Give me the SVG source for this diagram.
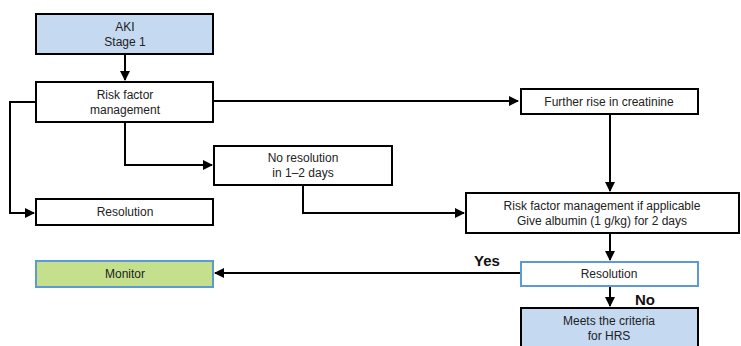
<svg xmlns="http://www.w3.org/2000/svg" width="741" height="346" viewBox="0 0 741 346">
<defs>
<marker id="ah" viewBox="0 0 10 10" refX="9" refY="5" markerWidth="5" markerHeight="5" orient="auto" markerUnits="strokeWidth"><path d="M0,0 L10,5 L0,10 z" fill="#000"/></marker>
<style>
.box{stroke:#000;stroke-width:2;fill:#fff}
.blue{fill:#c5d9f1}
.bl{stroke:#5b9bd5}
.green{fill:#c4e08c}
text{font-family:"Liberation Sans",Arial,sans-serif;font-size:12px;fill:#222;text-anchor:middle}
.lbl{font-weight:bold;font-size:15px;fill:#111}
.c{fill:none;stroke:#000;stroke-width:2}
</style>
</defs>
<rect width="741" height="346" fill="#fff"/>
<g id="connectors">
<path class="c" d="M125,54 V80" marker-end="url(#ah)"/>
<path class="c" d="M213,101 H518" marker-end="url(#ah)"/>
<path class="c" d="M125,122 V165 H212" marker-end="url(#ah)"/>
<path class="c" d="M36,102 H10 V213 H34" marker-end="url(#ah)"/>
<path class="c" d="M303,185 V213 H464" marker-end="url(#ah)"/>
<path class="c" d="M610,114 V191" marker-end="url(#ah)"/>
<path class="c" d="M610,233 V260" marker-end="url(#ah)"/>
<path class="c" d="M520,273 H215" marker-end="url(#ah)"/>
<path class="c" d="M610,286 V306" marker-end="url(#ah)"/>
<text class="lbl" x="487" y="266">Yes</text>
<text class="lbl" x="645" y="305">No</text>
</g>
<g id="aki"><rect class="box blue" x="36" y="14" width="177" height="40"/><text x="125" y="31">AKI</text><text x="125" y="46">Stage 1</text></g>
<g id="rfm"><rect class="box" x="36" y="82" width="177" height="40"/><text x="125" y="99">Risk factor</text><text x="125" y="114">management</text></g>
<g id="further"><rect class="box" x="521" y="89" width="177" height="25"/><text x="609" y="106">Further rise in creatinine</text></g>
<g id="noresolution"><rect class="box" x="214" y="146" width="178" height="39"/><text x="303" y="162">No resolution</text><text x="303" y="177">in 1–2 days</text></g>
<g id="resolution1"><rect class="box" x="36" y="199" width="177" height="26"/><text x="125" y="216">Resolution</text></g>
<g id="rfmalb"><rect class="box" x="466" y="193" width="273" height="40"/><text x="602" y="210">Risk factor management if applicable</text><text x="602" y="225">Give albumin  (1 g/kg) for 2 days</text></g>
<g id="monitor"><rect class="box green bl" x="36" y="261" width="177" height="26"/><text x="125" y="278">Monitor</text></g>
<g id="resolution2"><rect class="box bl" x="521" y="262" width="177" height="24"/><text x="609" y="278">Resolution</text></g>
<g id="hrs"><rect class="box blue" x="521" y="308" width="177" height="50"/><text x="609" y="325">Meets the criteria</text><text x="609" y="340">for HRS</text></g>
</svg>
